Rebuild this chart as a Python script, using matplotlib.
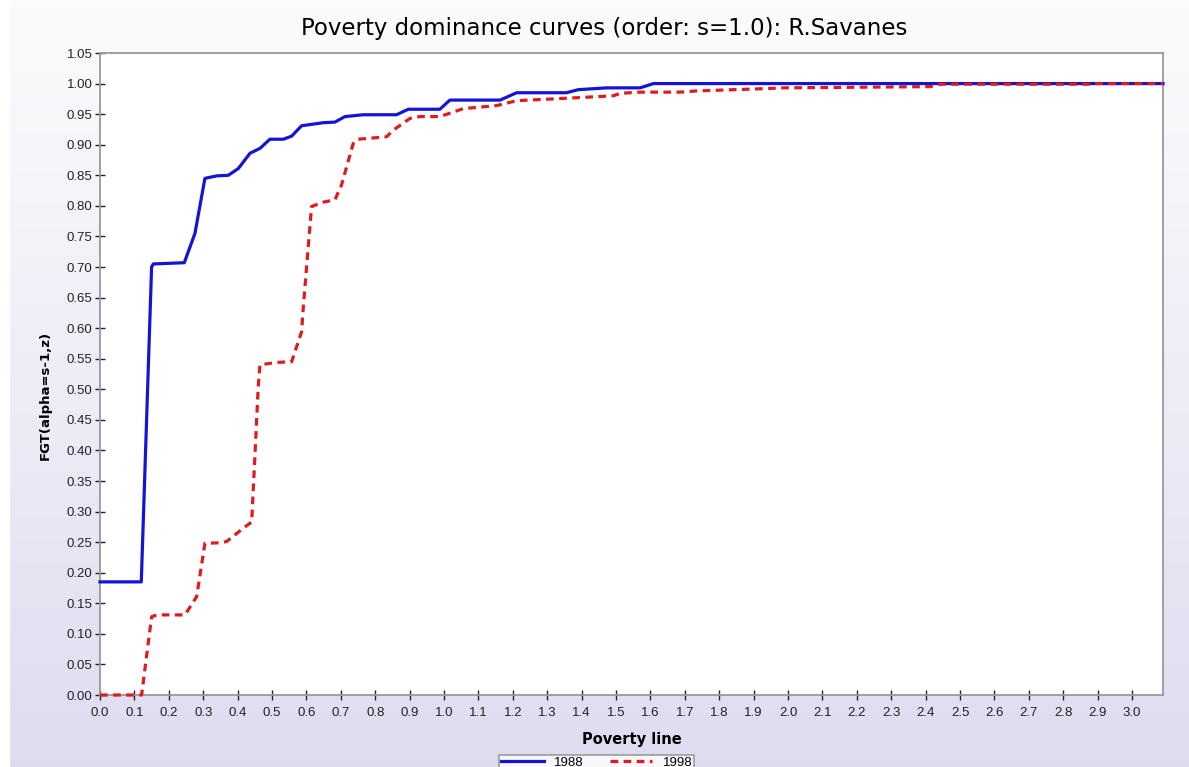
import numpy as np
import matplotlib
matplotlib.use("Agg")
import matplotlib.pyplot as plt

# poverty line values and FGT estimates
x_1988 = [0.0, 0.12, 0.15, 0.155, 0.245, 0.276, 0.305, 0.339, 0.373, 0.402, 0.436,
          0.465, 0.494, 0.533, 0.557, 0.586, 0.649, 0.683, 0.712, 0.765, 0.862,
          0.896, 0.988, 1.017, 1.163, 1.211, 1.356, 1.390, 1.473, 1.570, 1.609, 3.09]
y_1988 = [0.185, 0.185, 0.700, 0.705, 0.707, 0.755, 0.845, 0.849, 0.850, 0.861, 0.886,
          0.894, 0.909, 0.909, 0.914, 0.931, 0.936, 0.937, 0.946, 0.949, 0.949,
          0.958, 0.958, 0.973, 0.973, 0.985, 0.985, 0.990, 0.993, 0.993, 1.0, 1.0]

x_1998 = [0.0, 0.121, 0.150, 0.165, 0.247, 0.281, 0.305, 0.349, 0.368, 0.417, 0.441,
          0.460, 0.465, 0.514, 0.557, 0.586, 0.591, 0.615, 0.649, 0.683, 0.702, 0.736,
          0.751, 0.814, 0.833, 0.853, 0.901, 0.930, 0.988, 1.056, 1.153, 1.211,
          1.356, 1.492, 1.512, 1.570, 1.686, 1.735, 1.948, 1.987, 2.413, 2.442,
          2.878, 2.897, 3.09]
y_1998 = [0.0, 0.0, 0.128, 0.131, 0.131, 0.161, 0.248, 0.249, 0.251, 0.273, 0.283,
          0.504, 0.540, 0.544, 0.545, 0.594, 0.635, 0.799, 0.806, 0.810, 0.834, 0.902,
          0.909, 0.912, 0.913, 0.924, 0.943, 0.946, 0.946, 0.959, 0.964, 0.972,
          0.976, 0.980, 0.984, 0.986, 0.986, 0.988, 0.992, 0.993, 0.995, 0.999,
          0.999, 1.0, 1.0]

x_ticks = [round(0.1 * i, 1) for i in range(31)]
y_ticks = [round(0.05 * i, 2) for i in range(22)]

fig = plt.figure(figsize=(11.89, 7.67), dpi=100)

# background: white strip on the left, then light -> lavender gradient
bg = fig.add_axes([0, 0, 1, 1], zorder=-10)
grad = np.linspace(0, 1, 256).reshape(-1, 1)
top = np.array([0.985, 0.985, 0.99])
bot = np.array([0.87, 0.863, 0.94])
img = top + (bot - top) * grad[..., None] ** 1.1
bg.imshow(img, aspect="auto", extent=[0, 1, 0, 1], origin="upper")
bg.axvspan(0, 9 / 1189, color="white")
bg.set_xlim(0, 1)
bg.set_ylim(0, 1)
bg.axis("off")

ax = fig.add_axes([100 / 1189, 1 - 695 / 767, 1063 / 1189, 642 / 767])
ax.set_facecolor("white")

l1, = ax.plot(x_1988, y_1988, color="#1414d6", lw=2.3, label="1988",
              clip_on=False, zorder=3)
l2, = ax.plot(x_1998, y_1998, color="#e01b1b", lw=2.3, ls=(0, (2.4, 1.7)),
              label="1998", clip_on=False, zorder=4)

ax.set_xlim(0, 3.09)
ax.set_ylim(0, 1.05)
ax.set_xticks(x_ticks)
ax.set_xticklabels([f"{v:.1f}" for v in x_ticks])
ax.set_yticks(y_ticks)
ax.set_yticklabels([f"{v:.2f}" for v in y_ticks])
ax.tick_params(direction="inout", length=7, width=1, color="#222222",
               labelsize=9.5, pad=2)
ax.tick_params(axis="x", pad=5)
for lab in ax.get_xticklabels() + ax.get_yticklabels():
    lab.set_family("Liberation Sans")
    lab.set_color("#222222")
for s in ax.spines.values():
    s.set_color("#999999")
    s.set_linewidth(1.3)
    s.set_zorder(2)

fig.text(604 / 1189, 1 - 28 / 767, "Poverty dominance curves (order: s=1.0): R.Savanes",
         fontsize=16.5, family="DejaVu Sans", ha="center", va="center")
ax.set_xlabel("Poverty line", fontsize=10.5, fontweight="bold")
ax.xaxis.set_label_coords(0.5, -0.058)
ax.set_ylabel("FGT(alpha=s-1,z)", fontsize=9.5, fontweight="bold")
ax.yaxis.set_label_coords(-0.045, 0.467)

leg = fig.legend(handles=[l1, l2], loc="upper center", ncol=2,
                 bbox_to_anchor=(0.502, 1 - 748 / 767), frameon=True,
                 fancybox=False, edgecolor="#888888",
                 handlelength=3.2, columnspacing=2.0, borderpad=0.15,
                 prop={"family": "Liberation Sans", "size": 9.5})
leg.get_frame().set_linewidth(1.2)

fig.savefig("out.png", dpi=100)
